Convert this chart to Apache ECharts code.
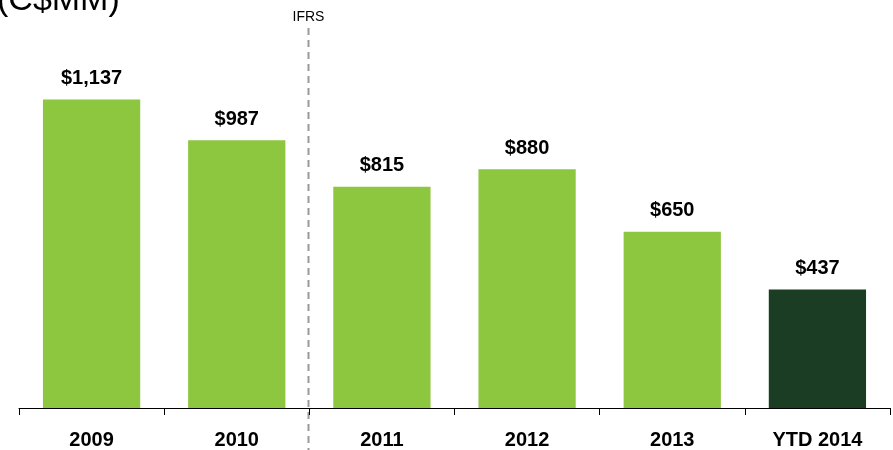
<!DOCTYPE html>
<html>
<head>
<meta charset="utf-8">
<script src="https://cdn.jsdelivr.net/npm/echarts@6/dist/echarts.min.js"></script>
<style>
    html, body { margin: 0; padding: 0; background: #fff; }
    #chart { width: 893px; height: 450px; }
</style>
</head>
<body>
<div id="chart"></div>
<script>
const categories = ["2009", "2010", "2011", "2012", "2013", "YTD 2014"];
const values = [1137, 987, 815, 880, 650, 437];
const barColors = ["#8dc63f", "#8dc63f", "#8dc63f", "#8dc63f", "#8dc63f", "#1a3d23"];
const unitLabel = "(C$MM)";
const dividerLabel = "IFRS";

const FONT = "'Liberation Sans', Arial, sans-serif";

const chart = echarts.init(document.getElementById("chart"));

chart.setOption({
    animation: false,
    grid: { left: 19, right: 3, top: 1, bottom: 41 },
    xAxis: {
        type: "category",
        data: categories,
        axisLine: { lineStyle: { color: "#000", width: 1 } },
        axisTick: { show: true, inside: false, length: 7, lineStyle: { color: "#000", width: 1 } },
        axisLabel: {
            color: "#000",
            fontFamily: FONT,
            fontWeight: "bold",
            fontSize: 20,
            margin: 22
        }
    },
    yAxis: {
        type: "value",
        min: 0,
        max: 1500,
        show: false,
        splitLine: { show: false }
    },
    series: [
        {
            type: "bar",
            barWidth: "67%",
            data: values.map((v, i) => ({
                value: v,
                itemStyle: { color: barColors[i] }
            })),
            label: {
                show: true,
                position: "top",
                distance: 11,
                color: "#000",
                fontFamily: FONT,
                fontWeight: "bold",
                fontSize: 20,
                formatter: p => "$" + p.value.toLocaleString("en-US")
            }
        }
    ]
});

// IFRS divider between 2010 and 2011
const x1 = chart.convertToPixel({ xAxisIndex: 0 }, categories[1]);
const x2 = chart.convertToPixel({ xAxisIndex: 0 }, categories[2]);
const divX = Math.round((x1 + x2) / 2) - 0.5;

chart.setOption({
    graphic: [
        {
            type: "text",
            left: -3,
            top: -16,
            style: {
                text: unitLabel,
                fontFamily: FONT,
                fontSize: 34,
                fill: "#000"
            }
        },
        {
            type: "line",
            shape: { x1: divX, y1: 28, x2: divX, y2: 450 },
            style: { stroke: "#999", lineWidth: 2, lineDash: [7, 5] }
        },
        {
            type: "text",
            x: divX,
            y: 10,
            style: {
                text: dividerLabel,
                fontFamily: FONT,
                fontSize: 14,
                fill: "#000",
                align: "center"
            }
        }
    ]
});
</script>
</body>
</html>
